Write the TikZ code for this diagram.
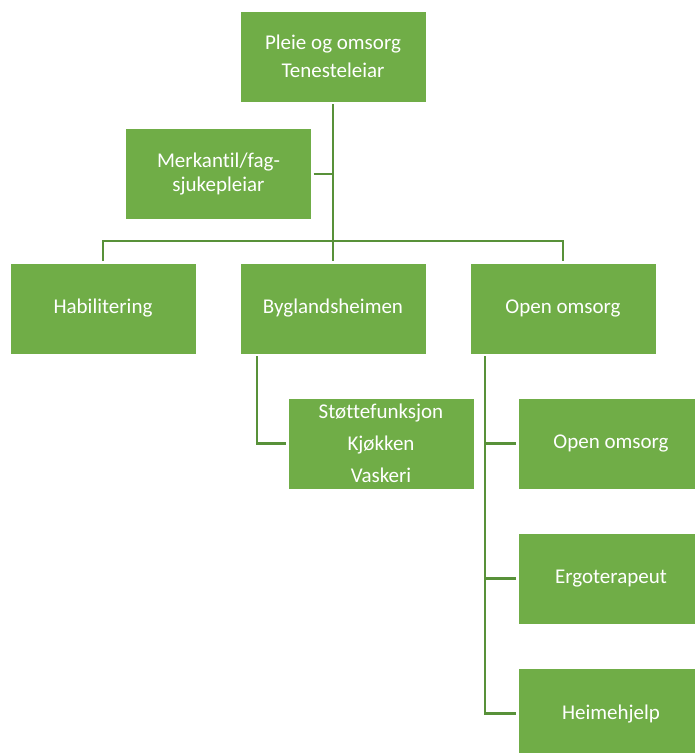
\documentclass[tikz,border=0pt]{standalone}
\usepackage{fontspec}
\setmainfont[Ligatures=NoCommon]{Carlito}
\usepackage{tikz}
\definecolor{boxgreen}{RGB}{112, 173, 71}
\definecolor{linegreen}{RGB}{88, 145, 57}

\begin{document}
\begin{tikzpicture}[box/.style={rectangle, minimum width=186pt, minimum height=91pt, inner sep=0pt, outer sep=2pt, fill=boxgreen, draw=white, line width=0.5pt, text=white, align=center, font=\fontsize{21}{24}\selectfont}, link/.style={line width=2.6pt, color=linegreen}]
\clip (0pt, 0pt) rectangle (695pt, -753pt);
\node (top) [box] at (333.0pt, -56.5pt) {Pleie og omsorg\\[4pt]Tenesteleiar};
\node (merk) [box] at (218.5pt, -174.0pt) {Merkantil/fag-\\sjukepleiar};
\node (hab) [box] at (103.0pt, -308.5pt) {Habilitering};
\node (byg) [box] at (333.0pt, -308.5pt) {Byglandsheimen};
\node (open) [box] at (563.0pt, -308.5pt) {Open omsorg};
\node (stoette) [box] at (381.0pt, -443.5pt) {St\o ttefunksjon\\[8pt]Kj\o kken\\[8pt]Vaskeri};
\node (oo) [box] at (611.0pt, -443.5pt) {Open omsorg};
\node (ergo) [box] at (611.0pt, -578.5pt) {Ergoterapeut};
\node (heim) [box] at (611.0pt, -713.5pt) {Heimehjelp};
\coordinate (bar) at (333.0pt, -241.0pt);
\draw [link] (top) to (byg);
\draw [link] (merk.east) to (merk.east -| top.south);
\draw [link] (hab.north) |- (bar) -| (open.north);
\draw [link] ([xshift=19pt]byg.south west) |- (stoette.west);
\draw [link] ([xshift=17pt]open.south west) |- (oo.west);
\draw [link] ([xshift=17pt]open.south west) |- (ergo.west);
\draw [link] ([xshift=17pt]open.south west) |- (heim.west);
\end{tikzpicture}
\end{document}
